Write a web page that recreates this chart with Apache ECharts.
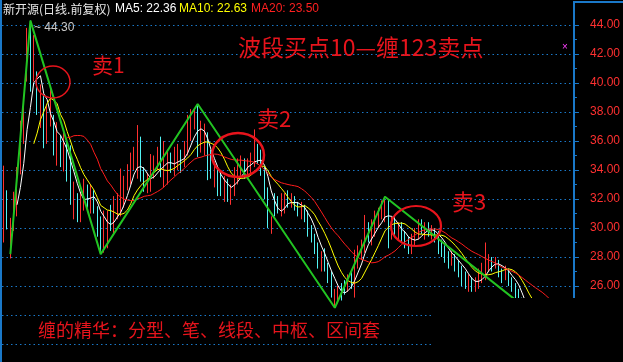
<!DOCTYPE html>
<html><head><meta charset="utf-8">
<script src="https://cdn.jsdelivr.net/npm/echarts/dist/echarts.min.js"></script>
<style>html,body{margin:0;padding:0;background:#000;}#c{width:623px;height:362px;}</style>
</head><body><div id="c"></div>
<script>
// Daily candles (前复权)
const opens = [
29.5,32.4,28.6,30.5,31.5,34.2,36.5,40.6,43.2,40.4,
40.6,37.8,39.0,36.2,37.4,37.5,35.2,36.0,35.0,35.8,
35.2,31.6,32.0,30.8,32.0,32.6,31.8,32.4,31.2,30.2,
29.4,29.6,30.8,30.2,31.0,31.6,31.8,33.4,33.4,34.4,
33.6,34.2,33.8,32.8,33.0,33.8,34.4,35.2,33.8,34.2,
34.6,34.4,34.6,35.0,34.6,35.4,36.4,37.2,37.8,35.8,
35.4,35.8,34.8,33.2,33.6,33.4,32.8,33.0,32.2,32.4,
33.8,34.0,34.4,34.0,34.2,34.6,35.4,35.0,34.0,32.4,
29.6,32.2,31.8,31.2,31.4,32.2,31.8,32.0,31.6,31.0,
31.4,31.0,30.0,29.4,28.8,27.6,28.2,27.4,26.6,24.8,
25.2,25.8,26.2,26.0,26.6,26.0,27.6,28.2,28.8,29.8,
29.2,29.8,30.6,31.0,30.8,31.8,29.8,30.4,29.8,30.0,
29.6,28.8,28.6,29.0,29.6,30.2,29.6,30.0,29.6,29.8,
29.6,28.8,28.6,28.2,27.6,28.0,27.6,27.2,26.8,26.0,
26.2,25.8,26.2,26.6,27.0,27.4,27.8,27.4,27.6,27.0,
26.8,27.0,26.4,26.0,25.6,25.0,24.2,23.6,23.4,23.0,
22.6,22.8,23.0,22.9,22.6,22.8,23.0,22.6,22.4,22.0,
22.2];
const closes = [
31.0,30.2,30.5,32.3,34.0,37.0,38.4,42.2,40.0,42.5,
38.3,39.5,36.0,38.0,37.6,35.6,36.0,34.8,35.6,35.0,
31.8,32.2,30.8,32.2,32.8,32.0,32.5,31.3,30.4,29.6,
30.2,30.6,30.4,31.2,31.4,31.8,33.2,33.6,34.8,35.2,
34.0,33.6,32.9,33.0,33.6,34.5,35.0,34.2,34.0,34.8,
34.5,34.6,34.8,34.6,35.4,36.4,37.4,37.6,36.6,36.2,
35.6,34.8,33.8,33.6,33.2,33.0,33.0,32.4,32.4,34.0,
34.2,34.6,34.0,34.2,34.8,35.2,35.0,34.2,32.4,31.0,
30.2,31.6,31.6,31.4,32.0,31.8,32.0,31.6,31.3,31.2,
31.0,30.0,29.6,28.6,27.6,28.0,27.4,26.6,25.6,25.0,
25.4,25.6,26.0,26.4,26.4,27.6,28.4,28.8,30.0,29.4,
29.6,30.4,30.8,31.6,31.4,30.0,30.2,29.8,30.0,29.6,
29.0,28.6,29.0,29.6,30.0,30.0,29.8,29.8,29.8,29.6,
28.8,28.6,28.2,27.8,28.0,27.6,27.2,26.8,26.4,26.2,
26.0,26.2,26.8,27.0,27.4,27.8,27.6,27.8,27.0,26.8,
27.0,26.6,26.2,25.6,25.0,24.2,23.6,23.2,23.0,22.8,
22.9,23.0,22.9,22.8,22.9,23.0,22.6,22.4,22.2,22.3,
22.3];
const lows = [
29.0,29.9,27.9,29.8,30.8,33.7,35.8,40.1,39.4,40.1,
37.8,36.9,35.5,35.8,37.0,35.0,34.3,34.2,33.9,33.2,
31.6,30.6,30.4,30.4,31.2,31.4,31.0,31.0,29.4,28.2,
28.3,28.6,29.8,29.6,30.6,30.8,31.4,32.6,33.0,34.0,
33.4,33.2,32.5,32.4,32.5,33.4,34.0,33.5,32.8,33.0,
33.8,33.6,34.0,33.8,34.2,35.0,36.0,36.8,34.9,35.2,
35.0,33.3,33.4,32.8,32.2,32.2,31.8,31.8,31.6,32.2,
33.0,33.6,33.4,33.6,33.8,34.2,34.4,33.6,32.0,30.0,
29.6,30.8,31.0,30.8,31.0,31.4,31.4,31.2,30.8,30.6,
30.4,29.4,29.0,28.2,27.2,27.0,27.0,26.2,25.2,24.5,
24.8,25.0,25.4,25.6,25.8,25.2,27.2,27.8,28.3,29.0,
28.8,29.4,30.0,30.6,30.4,28.6,29.2,29.4,29.2,29.0,
28.6,28.2,28.2,28.8,29.2,29.6,29.2,29.4,29.2,29.0,
28.2,28.0,27.6,27.2,27.4,27.0,26.6,26.0,25.8,25.6,
25.6,25.6,25.8,26.2,26.4,27.0,27.0,27.2,26.6,26.2,
26.4,26.0,25.6,25.0,24.6,23.8,23.2,22.8,22.6,22.4,
22.2,22.4,22.5,22.4,22.3,22.6,22.2,22.0,21.8,21.8,
21.9];
const highs = [
34.3,32.6,30.7,32.5,34.2,37.4,38.9,43.8,44.3,43.3,
40.8,39.9,39.2,38.4,39.6,37.8,37.3,36.4,36.8,36.2,
35.7,33.2,32.4,32.5,33.4,33.0,33.0,32.6,31.5,30.8,
31.2,31.2,31.6,32.2,32.4,34.1,33.6,34.4,35.2,35.6,
37.1,36.3,34.2,33.8,35.1,35.0,35.6,36.3,36.0,35.4,
35.2,35.6,35.8,35.4,36.0,37.8,38.2,38.2,38.55,37.4,
37.2,36.6,35.4,34.6,34.2,34.0,33.6,33.4,33.0,34.2,
34.8,35.0,34.8,34.8,35.2,36.8,35.8,35.4,34.2,32.8,
30.8,32.4,32.2,32.4,32.4,32.6,32.4,32.2,31.8,31.8,
31.6,31.2,30.2,29.6,29.0,28.4,28.6,27.6,27.0,25.8,
26.0,26.2,26.4,26.8,27.0,28.5,28.8,29.2,30.9,30.4,
30.6,31.2,31.4,31.9,32.16,32.0,30.8,30.8,30.4,30.4,
29.8,29.4,29.6,30.0,30.6,30.6,30.4,30.4,30.2,30.0,
29.8,29.2,28.8,28.4,28.4,28.2,27.8,27.4,27.0,26.8,
26.6,26.6,27.2,27.6,29.0,28.2,28.0,28.0,27.8,27.2,
27.4,27.2,26.6,26.2,25.8,25.2,24.4,23.8,23.6,23.2,
23.2,23.4,23.3,23.2,23.1,23.4,23.1,22.8,22.6,22.5,
22.6];
// 缠论 笔 (stroke) turning points: [bar index, price]
const biPoints = [[2,28.2],[8,44.3],[29,28.2],[58,38.55],[99,24.5],[114,32.16],[168,22.3]];
const categories = closes.map((_, i) => String(i + 1));

function movingAverage(n) {
  return closes.map((_, i) => {
    if (i < n - 1) return '-';
    let s = 0;
    for (let k = i - n + 1; k <= i; k++) s += closes[k];
    return +(s / n).toFixed(3);
  });
}
const candleData = closes.map((c, i) => [opens[i], c, lows[i], highs[i]]);

const chart = echarts.init(document.getElementById('c'), null, {renderer: 'canvas'});
const RED = '#ff3030', CYAN = '#52f4f4', BLUE = '#1a78c8';
const txtRed = '#e8141c';
chart.setOption({
  backgroundColor: '#000',
  animation: false,
  grid: {left: 2, right: 49, top: 25, bottom: 18, containLabel: false},
  xAxis: {type: 'category', data: categories, boundaryGap: true, show: false},
  yAxis: {
    type: 'value', position: 'right', min: 22, max: 44, interval: 2,
    axisLine: {show: true, lineStyle: {color: BLUE, width: 2}},
    axisTick: {show: true, length: 5, lineStyle: {color: BLUE}},
    minorTick: {show: true, splitNumber: 2, length: 3, lineStyle: {color: BLUE}},
    axisLabel: {color: RED, fontSize: 12, fontFamily: 'Liberation Sans', margin: 16,
      formatter: v => v.toFixed(2)},
    splitLine: {show: true, lineStyle: {color: BLUE, width: 1, type: [1.5, 3]}}
  },
  series: [
    {type: 'candlestick', data: candleData, barWidth: 1, z: 2, clip: false,
     itemStyle: {color: RED, color0: CYAN, borderColor: RED, borderColor0: CYAN, borderWidth: 1}},
    {type: 'line', name: 'MA5', data: movingAverage(5), symbol: 'none', z: 3, clip: false,
     lineStyle: {color: '#ffffff', width: 1}},
    {type: 'line', name: 'MA10', data: movingAverage(10), symbol: 'none', z: 3, clip: false,
     lineStyle: {color: '#ffff00', width: 1}},
    {type: 'line', name: 'MA20', data: movingAverage(20), symbol: 'none', z: 3, clip: false,
     lineStyle: {color: '#ff1c1c', width: 1}},
    {type: 'line', name: 'bi', data: biPoints, symbol: 'none', z: 4, clip: false,
     lineStyle: {color: '#22c422', width: 2}}
  ],
  graphic: [
    {type: 'rect', z: 100, shape: {x: 432, y: 298, width: 200, height: 70}, style: {fill: '#000'}},
    {type: 'line', z: 101, shape: {x1: 1, y1: 0, x2: 1, y2: 362}, style: {stroke: BLUE, lineWidth: 2}},
    {type: 'line', z: 101, shape: {x1: 574, y1: 2, x2: 574, y2: 26}, style: {stroke: BLUE, lineWidth: 2}},
    {type: 'line', z: 101, shape: {x1: 573, y1: 2, x2: 623, y2: 2}, style: {stroke: BLUE, lineWidth: 2}},
    {type: 'text', z: 101, x: 3, y: 9, style: {text: '新开源(日线.前复权)', fill: '#e6e6e6', font: '12px "Noto Sans CJK SC"', verticalAlign: 'middle'}},
    {type: 'text', z: 101, x: 115, y: 9, style: {text: 'MA5: 22.36', fill: '#ffffff', font: '12px "Liberation Sans"', verticalAlign: 'middle'}},
    {type: 'text', z: 101, x: 179, y: 9, style: {text: 'MA10: 22.63', fill: '#ffff00', font: '12px "Liberation Sans"', verticalAlign: 'middle'}},
    {type: 'text', z: 101, x: 251, y: 9, style: {text: 'MA20: 23.50', fill: '#ff2020', font: '12px "Liberation Sans"', verticalAlign: 'middle'}},
    {type: 'text', z: 101, x: 34, y: 28, style: {text: '~ 44.30', fill: '#c8c8c8', font: '12px "Liberation Sans"', verticalAlign: 'middle'}},
    {type: 'text', z: 101, x: 562, y: 47, style: {text: '×', fill: '#ff40ff', font: '10px "Liberation Sans"', verticalAlign: 'middle'}},
    {type: 'text', z: 101, x: 238, y: 47, style: {text: '波段买点10—缠123卖点', fill: txtRed, font: '23px "Noto Sans CJK SC"', verticalAlign: 'middle'}},
    {type: 'text', z: 101, x: 92, y: 65, style: {text: '卖1', fill: txtRed, font: '21px "Noto Sans CJK SC"', verticalAlign: 'middle'}},
    {type: 'text', z: 101, x: 257, y: 119, style: {text: '卖2', fill: txtRed, font: '22px "Noto Sans CJK SC"', verticalAlign: 'middle'}},
    {type: 'text', z: 101, x: 452, y: 202, style: {text: '卖3', fill: txtRed, font: '22px "Noto Sans CJK SC"', verticalAlign: 'middle'}},
    {type: 'text', z: 101, x: 38, y: 330, style: {text: '缠的精华：分型、笔、线段、中枢、区间套', fill: txtRed, font: '18px "Noto Sans CJK SC"', verticalAlign: 'middle'}},
    {type: 'ellipse', z: 101, shape: {cx: 53, cy: 82, rx: 17, ry: 16}, style: {fill: 'none', stroke: '#e8141c', lineWidth: 1.5}},
    {type: 'ellipse', z: 101, shape: {cx: 238, cy: 155, rx: 26, ry: 22}, style: {fill: 'none', stroke: '#e8141c', lineWidth: 2.5}},
    {type: 'ellipse', z: 101, shape: {cx: 416, cy: 226, rx: 25, ry: 20}, style: {fill: 'none', stroke: '#e8141c', lineWidth: 2.2}}
  ]
});
</script>
</body></html>
